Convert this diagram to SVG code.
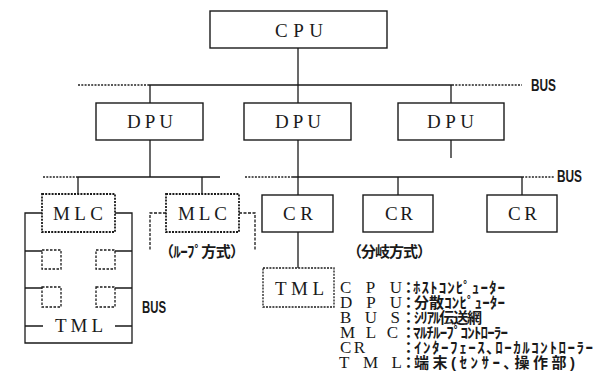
<svg xmlns="http://www.w3.org/2000/svg" width="607" height="391" viewBox="0 0 607 391">
<style>
.box{fill:none;stroke:#1a1a1a;stroke-width:1.4}
.dbox{fill:none;stroke:#1a1a1a;stroke-width:1.8;stroke-dasharray:2 1.2}
.sq{fill:none;stroke:#1a1a1a;stroke-width:1.3;stroke-dasharray:2.5 1.5}
.ln{fill:none;stroke:#1a1a1a;stroke-width:1.3}
.dot{fill:none;stroke:#222;stroke-width:1.3;stroke-dasharray:2 1.3}
.dash{fill:none;stroke:#1a1a1a;stroke-width:1.3;stroke-dasharray:3 1.5}
.lbl{font-family:"Liberation Serif","Times New Roman",serif;font-size:19px;fill:#1a1a1a}
.leg{font-family:"Liberation Serif","Times New Roman",serif;font-size:17px;fill:#1a1a1a}
.bus{font-family:"Liberation Sans",Arial,sans-serif;font-size:16px;font-weight:bold;fill:#1a1a1a}
.jp{font-family:"Liberation Sans","Noto Sans CJK JP",sans-serif;font-size:15px;font-weight:bold;fill:#1a1a1a}
</style>
<rect width="607" height="391" fill="#fff"/>
<g id="connectors">
<path class="dot" d="M78 85H148M452 85H522"/>
<path class="ln" d="M148 85H452"/>
<path class="ln" d="M298 48V103M150 85V103M451 85V103M451 140V158M150 140V177"/>
<path class="dot" d="M43 177H78M245 177H293M522 177H555"/>
<path class="ln" d="M78 177H220M293 177H522"/>
<path class="ln" d="M298 140V195M78 177V194M202 177V194M398 177V195M522 177V195M298 232V268"/>
<path class="ln" d="M42 213H25V343H132V213H115"/>
<path class="ln" d="M25 251H42M115 251H132M25 288H42M115 288H132M25 326H43M115 326H132"/>
<path class="dash" d="M166 213H150V250M239 213H255V250"/>
</g>
<g id="cpu"><rect class="box" x="210" y="11" width="177" height="37"/><text class="lbl" x="275" y="37" textLength="48" lengthAdjust="spacing">CPU</text></g>
<g id="dpu1"><rect class="box" x="96" y="103" width="107" height="37"/><text class="lbl" x="127" y="128" textLength="46" lengthAdjust="spacing">DPU</text></g>
<g id="dpu2"><rect class="box" x="244" y="103" width="107" height="37"/><text class="lbl" x="275" y="128" textLength="46" lengthAdjust="spacing">DPU</text></g>
<g id="dpu3"><rect class="box" x="398" y="103" width="106" height="37"/><text class="lbl" x="427" y="128" textLength="47" lengthAdjust="spacing">DPU</text></g>
<g id="mlc1"><rect class="dbox" x="42" y="194" width="73" height="38"/><text class="lbl" x="53" y="220" textLength="50" lengthAdjust="spacing">MLC</text></g>
<g id="mlc1-terminals">
<rect class="sq" x="42" y="250" width="19" height="19"/>
<rect class="sq" x="96" y="250" width="19" height="19"/>
<rect class="sq" x="42" y="287" width="19" height="20"/>
<rect class="sq" x="96" y="287" width="19" height="20"/>
</g>
<g id="tml1"><text class="lbl" x="55" y="332" textLength="48" lengthAdjust="spacing">TML</text></g>
<g id="mlc2"><rect class="dbox" x="166" y="194" width="73" height="38"/><text class="lbl" x="178" y="220" textLength="49" lengthAdjust="spacing">MLC</text></g>
<g id="cr1"><rect class="box" x="262" y="195" width="71" height="37"/><text class="lbl" x="283" y="220" textLength="30" lengthAdjust="spacing">CR</text></g>
<g id="cr2"><rect class="box" x="363" y="195" width="70" height="37"/><text class="lbl" x="385" y="220" textLength="28" lengthAdjust="spacing">CR</text></g>
<g id="cr3"><rect class="box" x="487" y="195" width="70" height="37"/><text class="lbl" x="508" y="220" textLength="29" lengthAdjust="spacing">CR</text></g>
<g id="tml2"><rect class="dbox" x="263" y="268" width="71" height="39" style="stroke-width:1.3"/><text class="lbl" x="275" y="295" textLength="49" lengthAdjust="spacing">TML</text></g>
<g id="labels">
<text class="bus" x="531" y="91" textLength="25" lengthAdjust="spacingAndGlyphs">BUS</text>
<text class="bus" x="557" y="182" textLength="25" lengthAdjust="spacingAndGlyphs">BUS</text>
<text class="bus" x="142" y="313" textLength="24" lengthAdjust="spacingAndGlyphs">BUS</text>
<text class="jp" x="159" y="257" textLength="86" lengthAdjust="spacing">（ﾙｰﾌﾟ方式）</text>
<text class="jp" x="347" y="257" textLength="85" lengthAdjust="spacing">（分岐方式）</text>
</g>
<g id="legend">
<text><tspan class="leg" x="340" y="293" textLength="62" lengthAdjust="spacing">CPU</tspan><tspan class="jp" x="401" y="293">：</tspan><tspan class="jp" x="413" y="293" textLength="92" lengthAdjust="spacing">ﾎｽﾄｺﾝﾋﾟｭｰﾀｰ</tspan><tspan class="leg" x="340" y="308" textLength="62" lengthAdjust="spacing">DPU</tspan><tspan class="jp" x="401" y="308">：</tspan><tspan class="jp" x="414" y="308" textLength="91" lengthAdjust="spacing">分散ｺﾝﾋﾟｭｰﾀｰ</tspan><tspan class="leg" x="340" y="323" textLength="60" lengthAdjust="spacing">BUS</tspan><tspan class="jp" x="401" y="323">：</tspan><tspan class="jp" x="414" y="323" textLength="68" lengthAdjust="spacing">ｼﾘｱﾙ伝送網</tspan><tspan class="leg" x="340" y="338" textLength="58" lengthAdjust="spacing">MLC</tspan><tspan class="jp" x="401" y="338">：</tspan><tspan class="jp" x="413" y="338" textLength="95" lengthAdjust="spacing">ﾏﾙﾁﾙｰﾌﾟｺﾝﾄﾛｰﾗｰ</tspan><tspan class="leg" x="340" y="353" textLength="25" lengthAdjust="spacing">CR</tspan><tspan class="jp" x="401" y="353">：</tspan><tspan class="jp" x="414" y="353" textLength="179" lengthAdjust="spacing">ｲﾝﾀｰﾌｪｰｽ､ﾛｰｶﾙｺﾝﾄﾛｰﾗｰ</tspan><tspan class="leg" x="339" y="368" textLength="63" lengthAdjust="spacing">TML</tspan><tspan class="jp" x="401" y="368">：</tspan><tspan class="jp" x="414" y="368" textLength="161" lengthAdjust="spacing">端末(ｾﾝｻｰ､操作部)</tspan></text>
</g>
</svg>
